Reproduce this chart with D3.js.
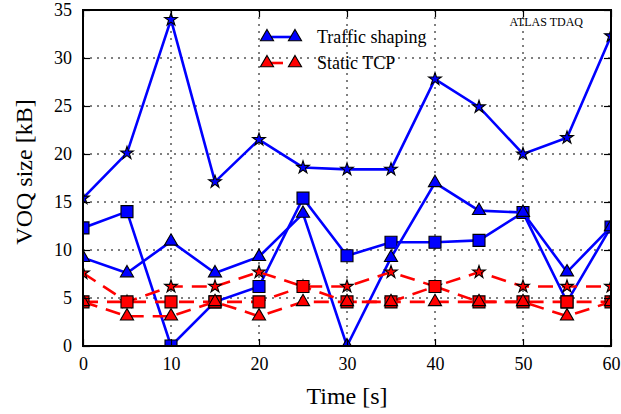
<!DOCTYPE html>
<html>
<head>
<meta charset="utf-8">
<script src="https://cdn.jsdelivr.net/npm/d3@7"></script>
<style>
  body { margin: 0; background: #fff; }
  svg text { font-family: 'Liberation Serif', 'Times New Roman', Times, 'DejaVu Serif', serif; }
</style>
</head>
<body>
<svg id="chart" width="621" height="414"></svg>
<script>
// Time axis (s)
const times = [0, 5, 10, 15, 20, 25, 30, 35, 40, 45, 50, 55, 60];

// Traffic shaping (blue, solid)
const shapingStar     = [15.4, 20.1, 34.0, 17.1, 21.5, 18.6, 18.4, 18.4, 27.8, 24.9, 20.0, 21.7, 32.3];
const shapingSquare   = [12.3, 14.0, 0.0, 4.6, 6.2, 15.4, 9.4, 10.8, 10.8, 11.0, 13.9, 4.6, 12.4];
const shapingTriangle = [9.2, 7.6, 10.9, 7.6, 9.3, 13.8, 0.0, 9.2, 17.0, 14.1, 13.9, 7.7, 12.4];

// Static TCP (red, dashed)
const staticStar     = [7.6, 4.6, 6.2, 6.2, 7.7, 6.2, 6.2, 7.7, 6.2, 7.7, 6.2, 6.2, 6.2];
const staticSquare   = [4.6, 4.6, 4.6, 4.6, 4.6, 6.2, 4.6, 4.6, 6.2, 4.6, 4.6, 4.6, 4.6];
const staticTriangle = [4.6, 3.1, 3.1, 4.6, 3.1, 4.6, 4.6, 4.6, 4.6, 4.6, 4.6, 3.1, 4.6];

const xTicks = [0, 10, 20, 30, 40, 50, 60];
const yTicks = [0, 5, 10, 15, 20, 25, 30, 35];

const mLeft = 83, mRight = 611, mTop = 10, mBottom = 346;

const svg = d3.select('#chart');
const x = d3.scaleLinear().domain([0, 60]).range([mLeft, mRight]);
const y = d3.scaleLinear().domain([0, 35]).range([mBottom, mTop]);

// Dotted grid
svg.append('g').selectAll('line')
    .data(xTicks.slice(1, -1))
    .join('line')
    .attr('x1', d => x(d)).attr('x2', d => x(d))
    .attr('y1', mTop).attr('y2', mBottom)
    .attr('stroke', '#000').attr('stroke-width', 1)
    .attr('stroke-dasharray', '2,5');
svg.append('g').selectAll('line')
    .data(yTicks.slice(1, -1))
    .join('line')
    .attr('x1', mLeft).attr('x2', mRight)
    .attr('y1', d => y(d)).attr('y2', d => y(d))
    .attr('stroke', '#000').attr('stroke-width', 1)
    .attr('stroke-dasharray', '2,5');

// Clip for data
svg.append('clipPath').attr('id', 'plot')
    .append('rect')
    .attr('x', mLeft).attr('y', mTop)
    .attr('width', mRight - mLeft).attr('height', mBottom - mTop);

const plot = svg.append('g').attr('clip-path', 'url(#plot)');

const line = d3.line().x(d => x(d[0])).y(d => y(d[1]));

const series = [
    { values: shapingStar, color: '#0000ff', dash: null, shape: d3.symbolStar, size: 50 },
    { values: shapingSquare, color: '#0000ff', dash: null, shape: d3.symbolSquare, size: 144 },
    { values: shapingTriangle, color: '#0000ff', dash: null, shape: d3.symbolTriangle, size: 75 },
    { values: staticStar, color: '#ff0000', dash: '15,9', shape: d3.symbolStar, size: 50 },
    { values: staticSquare, color: '#ff0000', dash: '15,9', shape: d3.symbolSquare, size: 144 },
    { values: staticTriangle, color: '#ff0000', dash: '15,9', shape: d3.symbolTriangle, size: 75 }
];

series.forEach(s => {
    const pts = times.map((t, i) => [t, s.values[i]]);
    plot.append('path')
        .attr('d', line(pts))
        .attr('fill', 'none')
        .attr('stroke', s.color)
        .attr('stroke-width', 2.6)
        .attr('stroke-dasharray', s.dash);
    plot.append('g').selectAll('path')
        .data(pts)
        .join('path')
        .attr('transform', d => `translate(${x(d[0])},${y(d[1])})`)
        .attr('d', d3.symbol().type(s.shape).size(s.size))
        .attr('fill', s.color)
        .attr('stroke', '#000')
        .attr('stroke-width', 1.1);
});

// Axes with inward ticks on all four sides
const xAxisB = d3.axisBottom(x).tickValues(xTicks).tickSize(-7).tickPadding(11);
const xAxisT = d3.axisTop(x).tickValues(xTicks).tickSize(-7).tickFormat('');
const yAxisL = d3.axisLeft(y).tickValues(yTicks).tickSize(-7).tickPadding(11);
const yAxisR = d3.axisRight(y).tickValues(yTicks).tickSize(-7).tickFormat('');

function styleAxis(g) {
    g.select('.domain').remove();
    g.attr('font-family', null);
    g.selectAll('.tick line').attr('stroke', '#000').attr('stroke-width', 1.2);
    g.selectAll('.tick text').attr('font-size', 18).attr('fill', '#000');
}
svg.append('g').attr('transform', `translate(0,${mBottom})`).call(xAxisB).call(styleAxis);
svg.append('g').attr('transform', `translate(0,${mTop})`).call(xAxisT).call(styleAxis);
svg.append('g').attr('transform', `translate(${mLeft},0)`).call(yAxisL).call(styleAxis);
svg.append('g').attr('transform', `translate(${mRight},0)`).call(yAxisR).call(styleAxis);

// Frame
svg.append('rect')
    .attr('x', mLeft).attr('y', mTop)
    .attr('width', mRight - mLeft).attr('height', mBottom - mTop)
    .attr('fill', 'none').attr('stroke', '#000').attr('stroke-width', 2);

// Axis titles
svg.append('text')
    .attr('x', (mLeft + mRight) / 2).attr('y', 404)
    .attr('text-anchor', 'middle').attr('font-size', 24)
    .text('Time [s]');
svg.append('text')
    .attr('transform', 'translate(32,172) rotate(-90)')
    .attr('text-anchor', 'middle').attr('font-size', 24)
    .text('VOQ size [kB]');

// Annotation
svg.append('text')
    .attr('x', 583).attr('y', 26)
    .attr('text-anchor', 'end').attr('font-size', 12)
    .text('ATLAS TDAQ');

// Legend
const legendItems = [
    { label: 'Traffic shaping', color: '#0000ff', dash: null },
    { label: 'Static TCP', color: '#ff0000', dash: '16,30' }
];
const legend = svg.append('g');
legendItems.forEach((item, i) => {
    const ly = 37 + i * 26;
    legend.append('line')
        .attr('x1', 267).attr('x2', 295)
        .attr('y1', ly).attr('y2', ly)
        .attr('stroke', item.color).attr('stroke-width', 2.6)
        .attr('stroke-dasharray', item.dash);
    [267, 295].forEach(mx => {
        legend.append('path')
            .attr('transform', `translate(${mx},${ly})`)
            .attr('d', d3.symbol().type(d3.symbolTriangle).size(75))
            .attr('fill', item.color).attr('stroke', '#000').attr('stroke-width', 1.1);
    });
    legend.append('text')
        .attr('x', 317).attr('y', ly + 6)
        .attr('font-size', 18)
        .text(item.label);
});
</script>
</body>
</html>
